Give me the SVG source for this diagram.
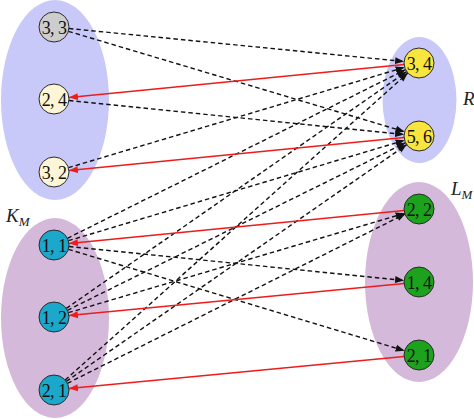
<svg xmlns="http://www.w3.org/2000/svg" width="474" height="419" viewBox="0 0 474 419">
<style>
.blue{fill:#c9c9f9}
.purple{fill:#d5b9da}
.node circle{stroke:#2a2a2a;stroke-width:1}
.node text{font-family:"Liberation Serif","DejaVu Serif",serif;font-size:18px;letter-spacing:-0.6px;fill:#111;text-anchor:middle}
.gray{fill:#cdcdcd}
.cream{fill:#fcf5d6}
.yellow{fill:#f8e53e}
.cyan{fill:#1ba8cb}
.green{fill:#1da21d}
.dash{stroke:#111;stroke-width:1.4;stroke-dasharray:4.5 3;fill:none;marker-end:url(#ak)}
.red{stroke:#ee1c1c;stroke-width:1.5;fill:none;marker-end:url(#ar)}
.lbl{font-family:"Liberation Serif","DejaVu Serif",serif;font-style:italic;fill:#222}
</style>
<defs>
<marker id="ak" markerUnits="userSpaceOnUse" markerWidth="10" markerHeight="8" refX="9" refY="4" orient="auto"><path d="M0,0.5 L9,4 L0,7.5 Z" fill="#111"/></marker>
<marker id="ar" markerUnits="userSpaceOnUse" markerWidth="10" markerHeight="8" refX="9" refY="4" orient="auto"><path d="M0,0.5 L9,4 L0,7.5 Z" fill="#ee1c1c"/></marker>
</defs>
<g id="groups">
<ellipse class="blue" cx="55" cy="100" rx="54" ry="100"/>
<ellipse class="purple" cx="55" cy="318" rx="54" ry="100"/>
<ellipse class="blue" cx="419.5" cy="100" rx="37" ry="63"/>
<ellipse class="purple" cx="419" cy="282" rx="54" ry="100"/>
</g>
<g id="labels">
<text class="lbl" x="6" y="222" font-size="19">K<tspan font-size="13" dy="4">M</tspan></text>
<text class="lbl" x="451" y="195" font-size="19">L<tspan font-size="13" dy="4">M</tspan></text>
<text class="lbl" x="463" y="105" font-size="19">R</text>
</g>
<g id="connectors">
<line class="dash" x1="68.9" y1="28.5" x2="404.1" y2="61.5"/>
<line class="dash" x1="68.4" y1="31.3" x2="404.6" y2="131.7"/>
<line class="dash" x1="68.9" y1="100.5" x2="404.1" y2="134.5"/>
<line class="dash" x1="68.4" y1="167.7" x2="404.6" y2="67.3"/>
<line class="dash" x1="67.4" y1="238.3" x2="405.6" y2="69.7"/>
<line class="dash" x1="68.4" y1="240.7" x2="404.6" y2="140.3"/>
<line class="dash" x1="68.9" y1="246.5" x2="404.1" y2="280.5"/>
<line class="dash" x1="68.4" y1="249.3" x2="404.6" y2="350.7"/>
<line class="dash" x1="66.3" y1="308.4" x2="406.7" y2="71.6"/>
<line class="dash" x1="67.4" y1="310.3" x2="405.6" y2="142.7"/>
<line class="dash" x1="68.4" y1="312.7" x2="404.6" y2="213.3"/>
<line class="dash" x1="65.2" y1="380.0" x2="407.8" y2="73.0"/>
<line class="dash" x1="66.3" y1="381.4" x2="406.7" y2="144.6"/>
<line class="dash" x1="67.4" y1="383.3" x2="405.6" y2="213.7"/>
<line class="red" x1="404.1" y1="64.5" x2="68.9" y2="97.5"/>
<line class="red" x1="404.1" y1="137.5" x2="68.9" y2="170.5"/>
<line class="red" x1="404.1" y1="210.5" x2="68.9" y2="243.5"/>
<line class="red" x1="404.1" y1="283.4" x2="68.9" y2="315.6"/>
<line class="red" x1="404.1" y1="356.4" x2="68.9" y2="388.6"/>
</g>
<g id="n33" class="node"><circle class="gray" cx="54" cy="27" r="15"/><text x="54" y="33.5">3, 3</text></g>
<g id="n24" class="node"><circle class="cream" cx="54" cy="99" r="15"/><text x="54" y="105.5">2, 4</text></g>
<g id="n32" class="node"><circle class="cream" cx="54" cy="172" r="15"/><text x="54" y="178.5">3, 2</text></g>
<g id="n11" class="node"><circle class="cyan" cx="54" cy="245" r="15"/><text x="54" y="251.5">1, 1</text></g>
<g id="n12" class="node"><circle class="cyan" cx="54" cy="317" r="15"/><text x="54" y="323.5">1, 2</text></g>
<g id="n21L" class="node"><circle class="cyan" cx="54" cy="390" r="15"/><text x="54" y="396.5">2, 1</text></g>
<g id="n34" class="node"><circle class="yellow" cx="419" cy="63" r="15"/><text x="419" y="69.5">3, 4</text></g>
<g id="n56" class="node"><circle class="yellow" cx="419" cy="136" r="15"/><text x="419" y="142.5">5, 6</text></g>
<g id="n22" class="node"><circle class="green" cx="419" cy="209" r="15"/><text x="419" y="215.5">2, 2</text></g>
<g id="n14" class="node"><circle class="green" cx="419" cy="282" r="15"/><text x="419" y="288.5">1, 4</text></g>
<g id="n21R" class="node"><circle class="green" cx="419" cy="355" r="15"/><text x="419" y="361.5">2, 1</text></g>
</svg>
